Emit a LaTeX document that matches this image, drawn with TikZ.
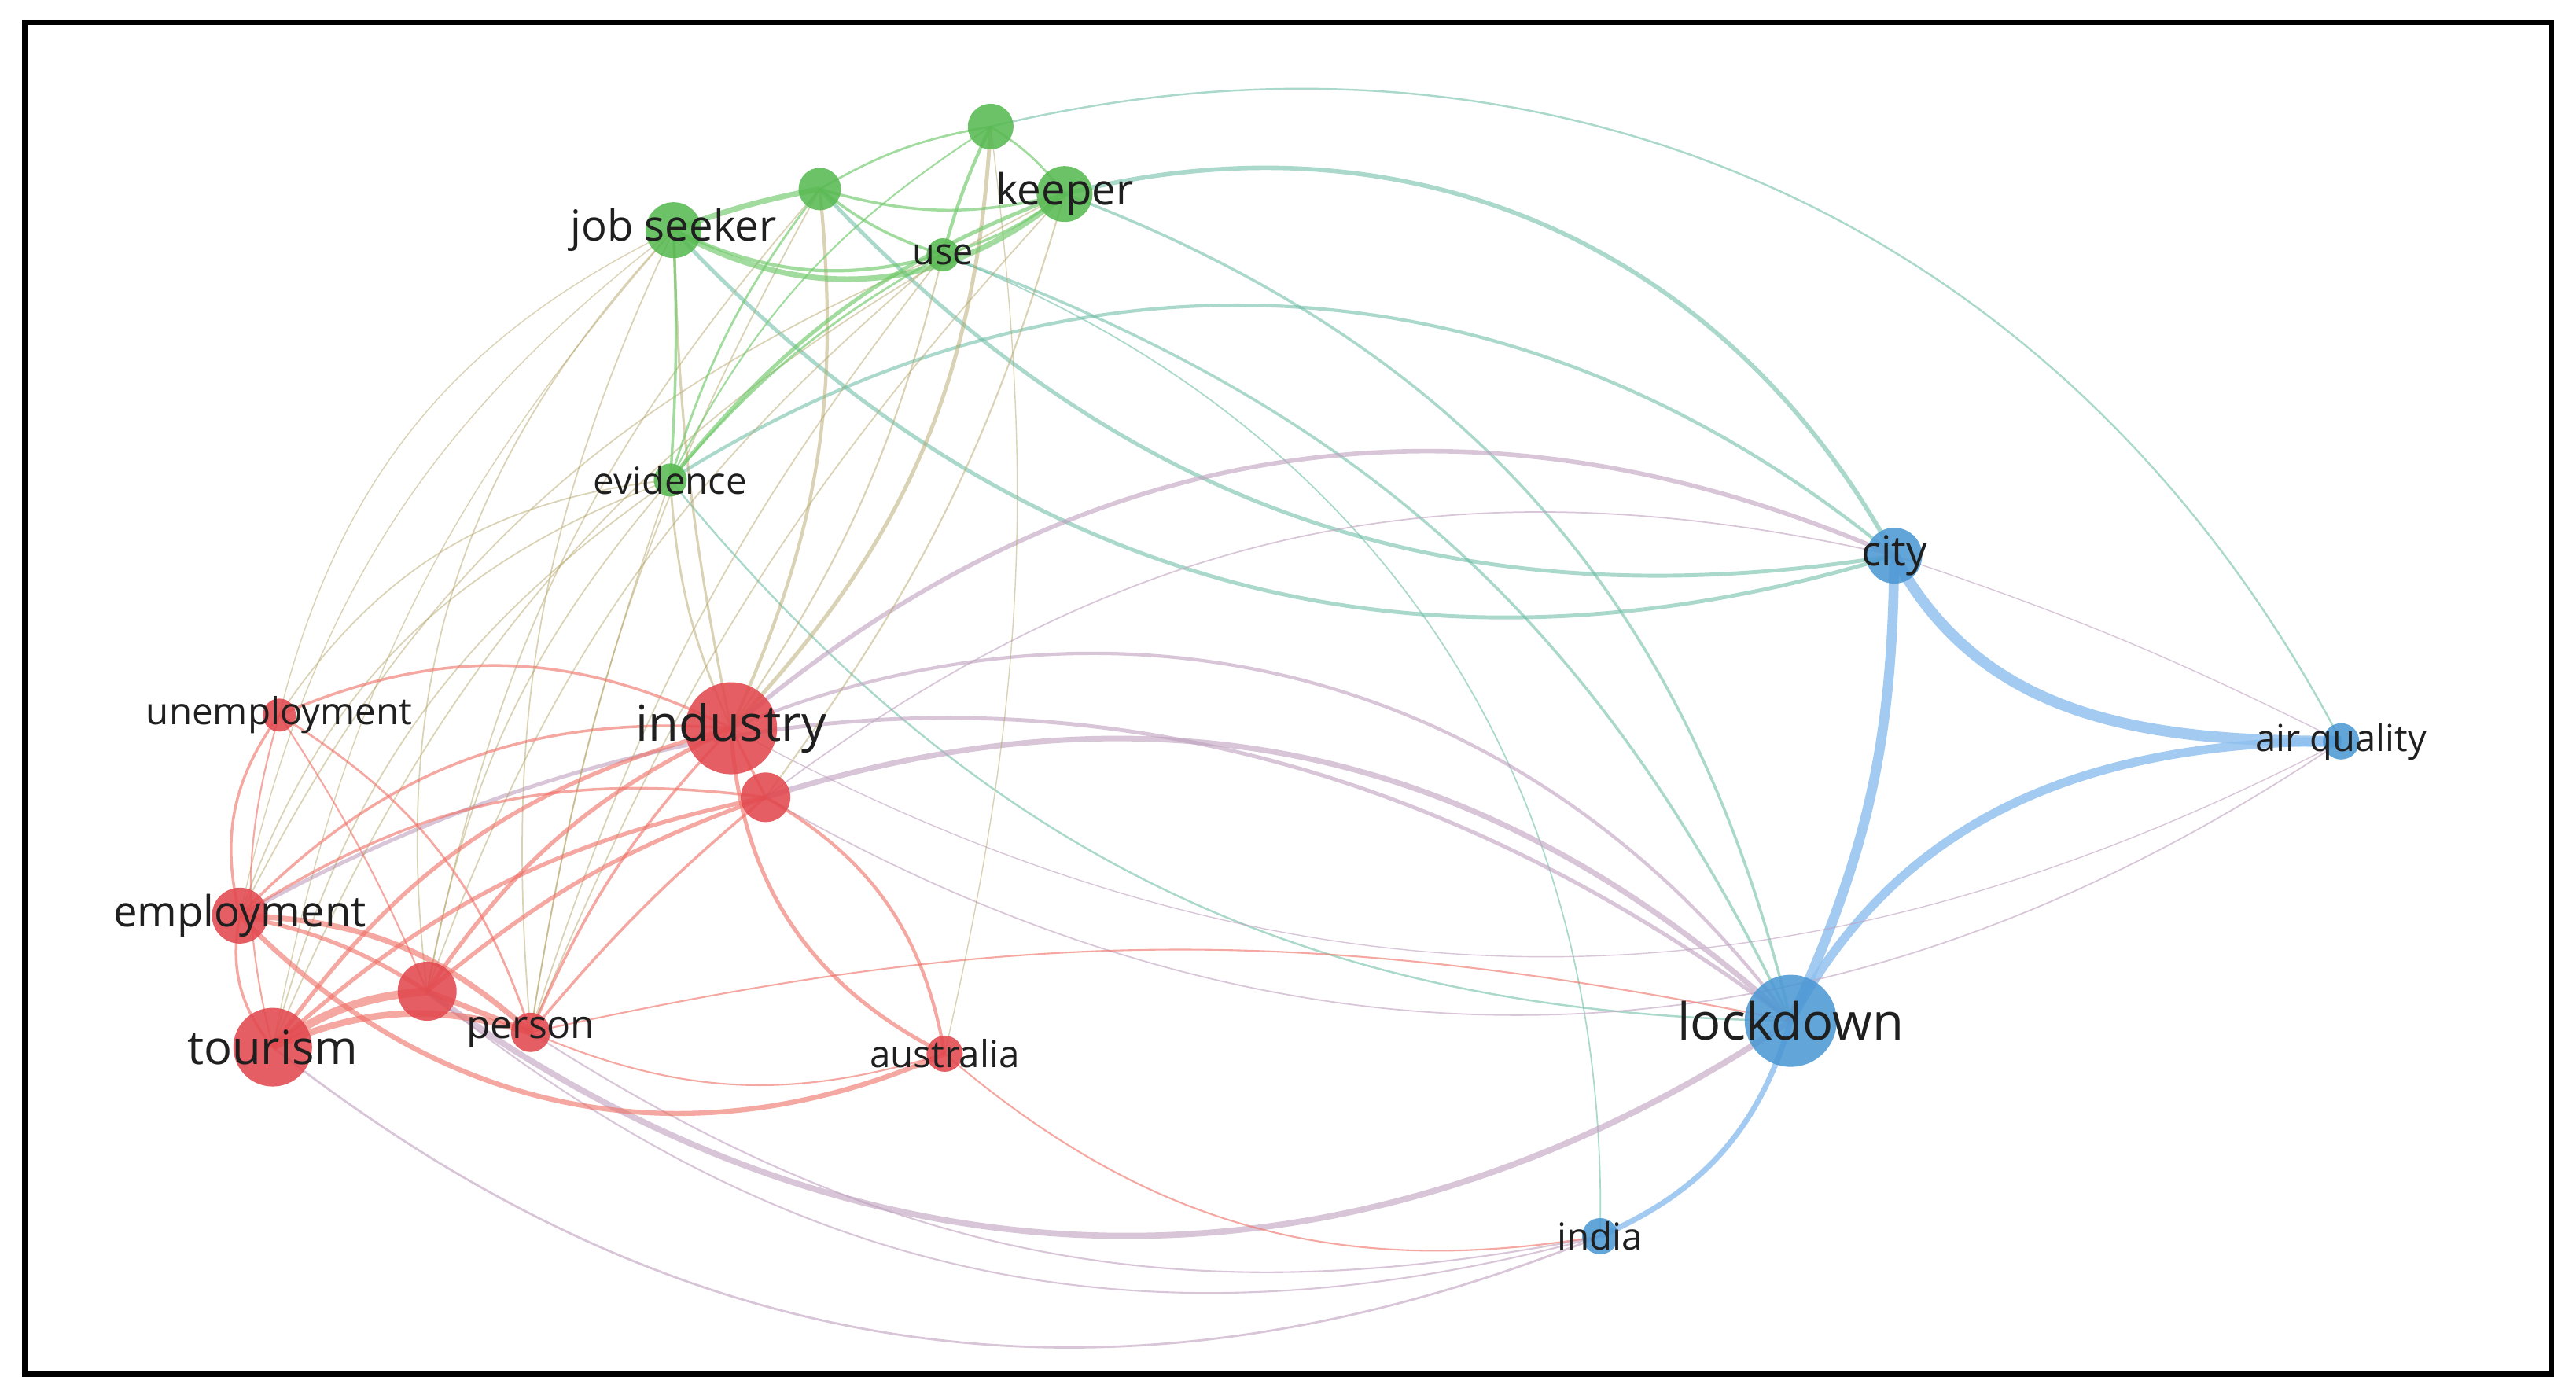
\documentclass[tikz,border=0pt]{standalone}
\usepackage{fontspec}
\setmainfont{Open Sans}
\usetikzlibrary{backgrounds}
\definecolor{vred}{RGB}{225,72,78}
\definecolor{vgreen}{RGB}{88,185,82}
\definecolor{vblue}{RGB}{76,152,212}
\definecolor{ered}{RGB}{238,110,100}
\definecolor{egreen}{RGB}{110,200,105}
\definecolor{eblue}{RGB}{140,190,238}
\definecolor{emauve}{RGB}{190,160,190}
\definecolor{eteal}{RGB}{100,185,160}
\definecolor{eolive}{RGB}{180,165,105}
\newcommand{\kwfont}[1]{\fontsize{#1}{#1}\selectfont}

\begin{document}
\begin{tikzpicture}[x=0.2089mm,y=-0.2090mm]
\tikzstyle{kw}=[circle,inner sep=0pt,draw=none,fill opacity=0.88]
\tikzstyle{rk}=[kw,fill=vred]
\tikzstyle{gk}=[kw,fill=vgreen]
\tikzstyle{bk}=[kw,fill=vblue]
\tikzstyle{lbl}=[inner sep=0pt,text=black!88,text opacity=1,fill opacity=1]
\tikzstyle{rr}=[draw=ered,draw opacity=0.6]
\tikzstyle{gg}=[draw=egreen,draw opacity=0.65]
\tikzstyle{bb}=[draw=eblue,draw opacity=0.8]
\tikzstyle{rbl}=[draw=emauve,draw opacity=0.6]
\tikzstyle{gbl}=[draw=eteal,draw opacity=0.55]
\tikzstyle{rgr}=[draw=eolive,draw opacity=0.5]
\useasboundingbox (0,0) rectangle (1568,851);
% green cluster
\node[gk,minimum size=7.1mm,label={[lbl,font=\kwfont{15.5}]center:job seeker}] (jobseeker) at (410,140) {};
\node[gk,minimum size=5.4mm] (gmid) at (499,115) {};
\node[gk,minimum size=5.8mm] (gtop) at (603,77) {};
\node[gk,minimum size=7.1mm,label={[lbl,font=\kwfont{15.5}]center:keeper}] (keeper) at (648,118) {};
\node[gk,minimum size=4.2mm,label={[lbl,font=\kwfont{13.3}]center:use}] (use) at (574,155) {};
\node[gk,minimum size=4.2mm,label={[lbl,font=\kwfont{13.5}]center:evidence}] (evidence) at (408,292) {};
% blue cluster
\node[bk,minimum size=7.1mm,label={[lbl,font=\kwfont{15}]center:city}] (city) at (1153,338) {};
\node[bk,minimum size=4.6mm,label={[lbl,font=\kwfont{13.4}]center:air quality}] (airq) at (1425,451) {};
\node[bk,minimum size=11.7mm,label={[lbl,font=\kwfont{18.5}]center:lockdown}] (lockdown) at (1090,621) {};
\node[bk,minimum size=4.6mm,label={[lbl,font=\kwfont{13.5}]center:india}] (india) at (974,752) {};
% red cluster
\node[rk,minimum size=4.2mm,label={[lbl,font=\kwfont{13.5}]center:unemployment}] (unemp) at (170,435) {};
\node[rk,minimum size=11.7mm,label={[lbl,font=\kwfont{18}]center:industry}] (industry) at (445,443) {};
\node[rk,minimum size=6.3mm] (indb) at (466,485) {};
\node[rk,minimum size=7.1mm,label={[lbl,font=\kwfont{15.5}]center:employment}] (employ) at (146,557) {};
\node[rk,minimum size=10mm,label={[lbl,font=\kwfont{17}]center:tourism}] (tourism) at (166,637) {};
\node[rk,minimum size=7.5mm] (tourb) at (260,603) {};
\node[rk,minimum size=5mm,label={[lbl,font=\kwfont{14.2}]center:person}] (person) at (323,628) {};
\node[rk,minimum size=4.6mm,label={[lbl,font=\kwfont{13.5}]center:australia}] (austr) at (575,641) {};

\begin{pgfonlayer}{background}
% blue links
\draw[bb,line width=3.6pt] (city.center) to[bend left=12] (lockdown.center);
\draw[bb,line width=3.2pt] (lockdown.center) to[out=62,in=180] (airq.center);
\draw[bb,line width=4pt] (airq.center) to[out=180,in=-62] (city.center);
\draw[bb,line width=2pt] (lockdown.center) to[bend left=25] (india.center);
\draw[rbl,line width=0.4pt] (city.center) to[bend left=4] (airq.center);
% green-blue links
\draw[gbl,line width=0.7pt] (gtop.center) to[bend left=38] (airq.center);
\draw[gbl,line width=1.6pt] (keeper.center) to[bend left=38] (city.center);
\draw[gbl,line width=1.2pt] (evidence.center) to[bend left=36] (city.center);
\draw[gbl,line width=1.4pt] (jobseeker.center) to[bend right=32] (city.center);
\draw[gbl,line width=1.4pt] (gmid.center) to[bend right=28] (city.center);
\draw[gbl,line width=1pt] (use.center) to[bend left=22] (lockdown.center);
\draw[gbl,line width=1pt] (keeper.center) to[bend left=28] (lockdown.center);
\draw[gbl,line width=0.5pt] (use.center) to[bend left=35] (india.center);
\draw[gbl,line width=0.7pt] (evidence.center) to[bend right=25] (lockdown.center);
% red-blue links
\draw[rbl,line width=2pt] (indb.center) to[bend left=30] (lockdown.center);
\draw[rbl,line width=1.2pt] (industry.center) to[bend left=38] (lockdown.center);
\draw[rbl,line width=1.4pt] (employ.center) to[bend left=33] (lockdown.center);
\draw[rbl,line width=1.6pt] (industry.center) to[bend left=32] (city.center);
\draw[rbl,line width=0.5pt] (indb.center) to[bend left=25] (city.center);
\draw[rbl,line width=2.2pt] (tourb.center) to[bend right=35] (lockdown.center);
\draw[rbl,line width=0.8pt] (tourism.center) to[bend right=30] (india.center);
\draw[rbl,line width=0.6pt] (person.center) to[bend right=22] (india.center);
\draw[rbl,line width=0.6pt] (tourb.center) to[bend right=27] (india.center);
\draw[rr,line width=0.6pt] (austr.center) to[bend right=25] (india.center);
\draw[rbl,line width=0.5pt] (airq.center) to[bend left=32] (indb.center);
\draw[rbl,line width=0.4pt] (airq.center) to[bend left=28] (industry.center);
\draw[rr,line width=0.6pt] (person.center) to[bend left=12] (lockdown.center);
% red-green links
\draw[rgr,line width=0.5pt] (jobseeker.center) to[bend right=25] (tourb.center);
\draw[rgr,line width=0.5pt] (jobseeker.center) to[bend right=15] (person.center);
\draw[rgr,line width=0.9pt] (jobseeker.center) to[bend right=5] (industry.center);
\draw[rgr,line width=0.4pt] (jobseeker.center) to[bend right=25] (unemp.center);
\draw[rgr,line width=0.4pt] (jobseeker.center) to[bend right=20] (employ.center);
\draw[rgr,line width=0.4pt] (jobseeker.center) to[bend right=15] (tourism.center);
\draw[rgr,line width=1.2pt] (gmid.center) to[bend left=15] (industry.center);
\draw[rgr,line width=1.4pt] (gtop.center) to[bend left=20] (industry.center);
\draw[rgr,line width=0.6pt] (use.center) to[bend left=10] (industry.center);
\draw[rgr,line width=0.6pt] (keeper.center) to[bend left=10] (indb.center);
\draw[rgr,line width=0.8pt] (evidence.center) to[bend right=10] (industry.center);
\draw[rgr,line width=0.5pt] (evidence.center) to[bend right=25] (unemp.center);
\draw[rgr,line width=0.5pt] (evidence.center) to[bend right=25] (employ.center);
\draw[rgr,line width=0.5pt] (evidence.center) to[bend right=20] (tourism.center);
\draw[rgr,line width=0.5pt] (evidence.center) to[bend right=15] (tourb.center);
\draw[rgr,line width=0.5pt] (evidence.center) to[bend right=5] (person.center);
\draw[rgr,line width=0.5pt] (gmid.center) to[bend right=15] (tourb.center);
\draw[rgr,line width=0.5pt] (gmid.center) to[bend right=10] (person.center);
\draw[rgr,line width=0.5pt] (use.center) to[bend right=15] (tourb.center);
\draw[rgr,line width=0.5pt] (use.center) to[bend right=10] (person.center);
\draw[rgr,line width=0.5pt] (use.center) to[bend right=20] (employ.center);
\draw[rgr,line width=0.5pt] (keeper.center) to[bend right=10] (person.center);
\draw[rgr,line width=0.5pt] (keeper.center) to[bend right=20] (tourism.center);
\draw[rgr,line width=0.4pt] (gtop.center) to[bend left=10] (austr.center);
% green links
\draw[gg,line width=2pt] (jobseeker.center) to[bend left=5] (gmid.center);
\draw[gg,line width=2pt] (jobseeker.center) to[bend right=35] (keeper.center);
\draw[gg,line width=1.2pt] (jobseeker.center) to[bend right=20] (use.center);
\draw[gg,line width=1pt] (gmid.center) to[bend right=15] (keeper.center);
\draw[gg,line width=1pt] (gmid.center) to[bend right=10] (use.center);
\draw[gg,line width=0.8pt] (gmid.center) to[bend left=10] (gtop.center);
\draw[gg,line width=1.2pt] (gtop.center) to[bend right=5] (use.center);
\draw[gg,line width=0.8pt] (gtop.center) to[bend left=10] (keeper.center);
\draw[gg,line width=1pt] (use.center) to[bend right=10] (keeper.center);
\draw[gg,line width=1pt] (jobseeker.center) to[bend left=3] (evidence.center);
\draw[gg,line width=0.8pt] (gmid.center) to[bend right=10] (evidence.center);
\draw[gg,line width=1.4pt] (keeper.center) to[bend right=15] (evidence.center);
\draw[gg,line width=0.8pt] (use.center) to[bend right=10] (evidence.center);
\draw[gg,line width=0.6pt] (gtop.center) to[bend right=15] (evidence.center);
% red links
\draw[rr,line width=3pt] (tourism.center) to[bend left=15] (tourb.center);
\draw[rr,line width=2.4pt] (tourism.center) to[bend left=20] (person.center);
\draw[rr,line width=2pt] (employ.center) to[bend left=20] (person.center);
\draw[rr,line width=1.5pt] (employ.center) to[bend left=10] (tourb.center);
\draw[rr,line width=1pt] (employ.center) to[bend right=25] (tourism.center);
\draw[rr,line width=1pt] (unemp.center) to[bend right=25] (employ.center);
\draw[rr,line width=0.6pt] (unemp.center) to[bend right=15] (tourism.center);
\draw[rr,line width=1pt] (unemp.center) to[bend left=25] (industry.center);
\draw[rr,line width=0.8pt] (unemp.center) to[bend left=20] (person.center);
\draw[rr,line width=0.6pt] (unemp.center) to[bend left=5] (tourb.center);
\draw[rr,line width=1.5pt] (industry.center) to[bend right=15] (tourb.center);
\draw[rr,line width=1.5pt] (industry.center) to[bend right=20] (tourism.center);
\draw[rr,line width=1pt] (industry.center) to[bend right=25] (employ.center);
\draw[rr,line width=1pt] (industry.center) to[bend right=10] (person.center);
\draw[rr,line width=1.4pt] (industry.center) to[bend right=30] (austr.center);
\draw[rr,line width=1.2pt] (indb.center) to[bend left=25] (austr.center);
\draw[rr,line width=1.5pt] (indb.center) to[bend right=10] (tourb.center);
\draw[rr,line width=1.5pt] (indb.center) to[bend right=15] (tourism.center);
\draw[rr,line width=1pt] (indb.center) to[bend right=20] (employ.center);
\draw[rr,line width=1pt] (indb.center) to[bend right=5] (person.center);
\draw[rr,line width=1pt] (industry.center) to (indb.center);
\draw[rr,line width=0.6pt] (person.center) to[bend right=20] (austr.center);
\draw[rr,line width=1.8pt] (employ.center) to[bend right=35] (austr.center);
\draw[rr,line width=2pt] (tourb.center) to (person.center);
\end{pgfonlayer}

\draw[line width=1.8pt] (15,14) rectangle (1553,836);
\end{tikzpicture}
\end{document}
